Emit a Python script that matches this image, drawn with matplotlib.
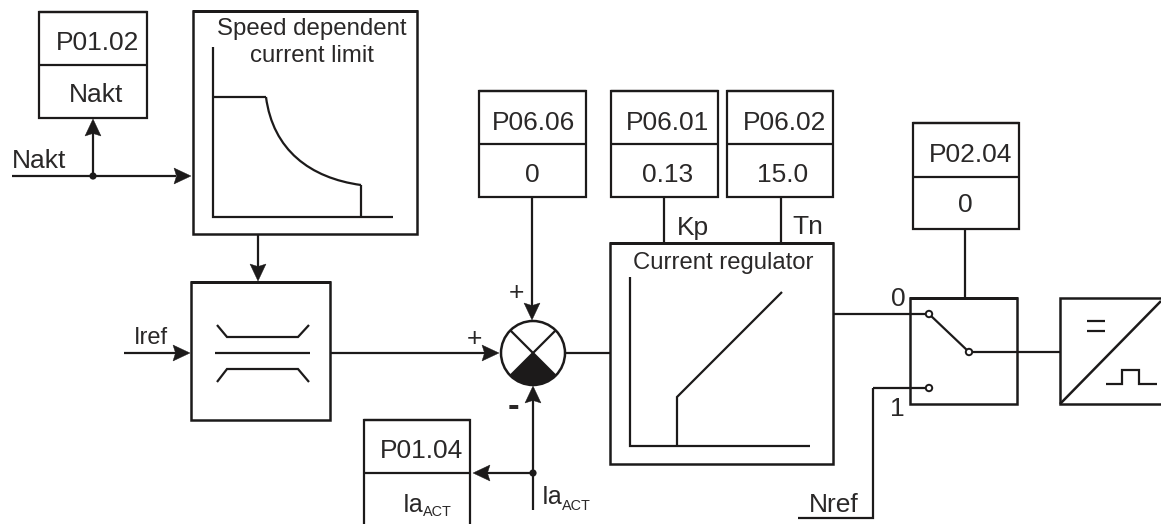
import numpy as np
import matplotlib
matplotlib.use("Agg")
import matplotlib.pyplot as plt
from matplotlib.patches import Circle, Polygon, Wedge, PathPatch
from matplotlib.path import Path

plt.rcParams['font.family'] = ['Liberation Sans', 'DejaVu Sans']
W, H = 1161, 524
INK = '#1c1a1a'
TXT = '#2a2828'
LW = 1.6
LWB = 1.8
FS = 19

# parameter boxes: (x0, x1, y0, divider, y1, code_x, code_y, value_x, value_y)
param_codes = ['P01.02', 'P06.06', 'P06.01', 'P06.02', 'P02.04', 'P01.04']
param_values = ['Nakt', '0', '0.13', '15.0', '0', 'Ia']
param_boxes = [(39, 147, 12, 65, 118, 98, 40, 96, 92),
               (479, 586, 91, 144, 197, 534, 120, 532, 172),
               (611, 718, 91, 144, 197, 668, 120, 668, 172),
               (727, 833, 91, 144, 197, 785, 120, 783, 172),
               (913, 1019, 123, 177, 229, 971, 152, 965, 203),
               (364, 470, 420, 473, 540, 422, 449, 403, 502)]

fig = plt.figure(figsize=(W/100, H/100), dpi=100)
ax = fig.add_axes([0, 0, 1, 1])
ax.set_xlim(0, W); ax.set_ylim(H, 0); ax.axis('off')

def line(xs, ys, lw=LW):
    ax.plot(xs, ys, color=INK, lw=lw, solid_capstyle='butt', solid_joinstyle='miter')

def rect(x0, y0, x1, y1, lw=LW):
    line([x0, x1, x1, x0, x0, x1], [y0, y0, y1, y1, y0, y0], lw)

def text(x, y, s, size=FS, ha='center', **kw):
    ax.text(x, y, s, fontsize=size, color=TXT, ha=ha, va='center_baseline', **kw)

def head(tip, direction, L=17, w=8):
    dx, dy = direction
    x, y = tip
    ax.add_patch(Polygon([(x, y), (x-dx*L-dy*w, y-dy*L-dx*w), (x-dx*L*0.85, y-dy*L*0.85),
                          (x-dx*L+dy*w, y-dy*L+dx*w)], closed=True, fc=INK, ec=INK, lw=0.3, zorder=4))

def node(x, y, r=3.6):
    ax.add_patch(Circle((x, y), r, fc=INK, ec=INK, lw=0, zorder=4))

def contact(x, y, r=3.2):
    ax.add_patch(Circle((x, y), r, fc='white', ec=INK, lw=1.4, zorder=5))

def ia_act(x, y):
    ax.text(x, y, 'Ia', fontsize=18, color=TXT, ha='left', va='center_baseline')
    ax.text(x+20, y+9, 'ACT', fontsize=10.4, color=TXT, ha='left', va='center_baseline')

for (x0, x1, y0, yd, y1, cx, cy, vx, vy), code, val in zip(param_boxes, param_codes, param_values):
    rect(x0, y0, x1, y1)
    line([x0, x1], [yd, yd])
    text(cx, cy, code)
    if val == 'Ia':
        ia_act(vx, vy)
    else:
        text(vx, vy, val)

# speed dependent limit block
rect(193, 11, 417, 234, LWB)
text(312, 26, 'Speed dependent', 17.3)
text(312, 53, 'current limit', 17.3)
line([213, 213, 393], [47, 217, 217])
line([213, 266], [97, 97])
ax.add_patch(PathPatch(Path([(266, 97), (273, 150), (310, 178), (361, 185)],
                            [Path.MOVETO, Path.CURVE4, Path.CURVE4, Path.CURVE4]),
                       fc='none', ec=INK, lw=LW))
line([361, 361], [185, 217])

# Nakt input
line([12, 176], [176, 176]); head((191, 176), (1, 0))
line([93, 93], [176, 132]); head((93, 119), (0, -1))
node(93, 176)
text(39, 158, 'Nakt')

# limiter block
rect(191, 282, 330, 420, LWB)
line([258, 258], [234, 268]); head((258, 281), (0, 1))
line([124, 176], [353, 353]); head((190, 353), (1, 0))
text(151, 336, 'Iref', 17)
line([215, 310], [353, 353])
line([217, 227, 298, 309], [325, 337, 337, 325])
line([217, 227, 298, 309], [382, 369, 369, 382])

# summing junction
SX, SY, SR = 533, 353, 32
ax.add_patch(Wedge((SX, SY), SR, 45, 135, fc=INK, ec=INK, lw=0, zorder=3))
ax.add_patch(Circle((SX, SY), SR, fc='none', ec=INK, lw=LWB, zorder=4))
d = SR*np.sqrt(0.5)
line([SX-d, SX+d], [SY-d, SY+d]); line([SX-d, SX+d], [SY+d, SY-d])
line([330, 486], [353, 353]); head((499, 353), (1, 0))
line([532, 532], [197, 307]); head((532, 320), (0, 1))
line([533, 533], [510, 400]); head((533, 386), (0, -1))
line([533, 487], [473, 473]); head((473, 473), (-1, 0))
node(533, 473)
line([565, 610], [353, 353])
text(516, 290, '+', 19); text(474, 337, '+', 19)
text(513, 403, '-', 25, fontweight='bold')
ia_act(542, 495)

# current regulator block
rect(610, 243, 833, 464, LWB)
line([664, 664], [197, 243]); line([781, 781], [197, 243])
text(693, 225, 'Kp'); text(808, 225, 'Tn')
text(723, 261, 'Current regulator', 17.2)
line([630, 630, 810], [277, 446, 446])
line([677, 677, 782], [446, 397, 292])

# switch
rect(910, 298, 1017, 404, LWB)
line([965, 965], [229, 298])
line([833, 927], [314, 314])
line([873, 927], [388, 388])
line([798, 873, 873], [518, 518, 388])
line([929, 969], [314, 352])
line([969, 1060], [352, 352])
contact(929, 314); contact(929, 388); contact(969, 352)
text(898, 297, '0'); text(897, 406, '1')
text(834, 503, 'Nref')

# converter
line([1161, 1060, 1060, 1161], [298, 298, 404, 404], LWB)
line([1060, 1161], [404, 301], LWB)
line([1087, 1105], [321, 321]); line([1087, 1105], [331, 331])
line([1106, 1122, 1122, 1139, 1139, 1157], [384, 384, 370, 370, 384, 384])

fig.savefig('out.png', dpi=100, facecolor='white')
